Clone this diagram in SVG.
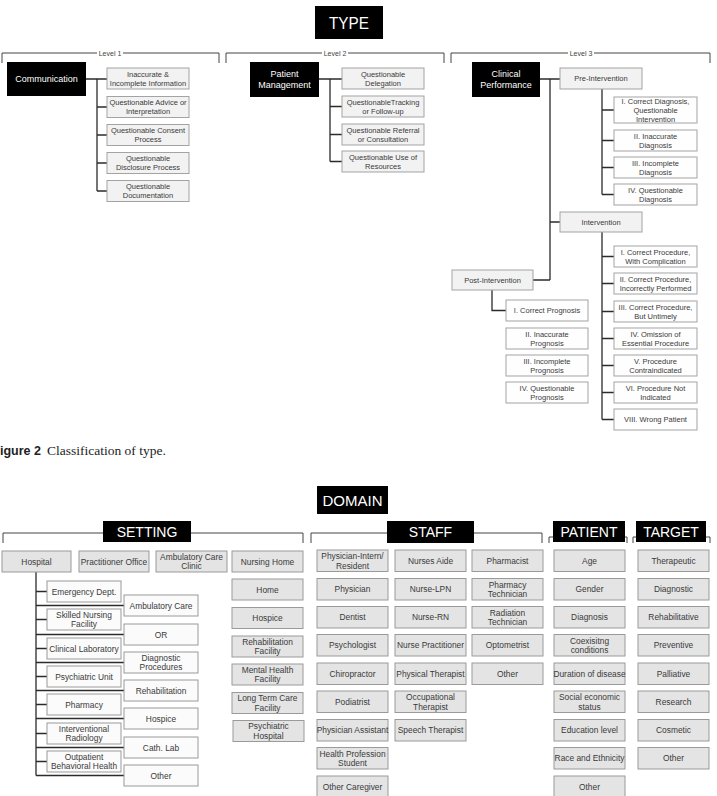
<svg xmlns="http://www.w3.org/2000/svg" width="717" height="796" viewBox="0 0 717 796">
<style>
text{font-family:"Liberation Sans",Arial,sans-serif;fill:#3a3a3a;text-anchor:middle;dominant-baseline:central}
.g rect{fill:#f2f2f2;stroke:#a3a3a3;stroke-width:1}
.w rect{fill:#fefefe;stroke:#a3a3a3;stroke-width:1}
.g text,.w text{font-size:7.5px}
.k rect{fill:#000}
.k text{fill:#fff;font-size:9px}
.h rect{fill:#000}
.h text{fill:#fff;font-size:14px}
.d rect{fill:#e4e4e4;stroke:#9a9a9a;stroke-width:1}
.dw rect{fill:#fbfbfb;stroke:#9a9a9a;stroke-width:1}
.d text,.dw text{font-size:8.4px}
.c{fill:none;stroke:#2b2b2b;stroke-width:1.3}
.br{fill:none;stroke:#444;stroke-width:1}
.lv{font-size:7px;fill:#444}
</style>

<!-- brackets -->
<g id="brackets">
<path class="br" d="M2,63V53H97M123,53H219V63"/>
<text class="lv" x="110" y="53">Level 1</text>
<path class="br" d="M226,63V53H322M348,53H444V63"/>
<text class="lv" x="335" y="53">Level 2</text>
<path class="br" d="M451,63V53H568M594,53H710V63"/>
<text class="lv" x="581" y="53">Level 3</text>
<path class="br" d="M3,543V533H303V543"/>
<path class="br" d="M311,543V533H542V543"/>
<path class="br" d="M549,543V537H627V543"/>
<path class="br" d="M633,543V537H710V543"/>
</g>

<!-- connectors -->
<g id="connectors">
<path class="c" d="M86,79H107M97,79V191M97,107H107M97,135H107M97,163H107M97,191H107"/>
<path class="c" d="M319,79H342M330,79V161.5M330,106.5H342M330,134.5H342M330,161.5H342"/>
<path class="c" d="M540,79H560M550,79V280M550,222H560M533,280H550"/>
<path class="c" d="M602,89V194.5M602,110H614M602,140.5H614M602,167.5H614M602,194.5H614"/>
<path class="c" d="M602,232V419.5M602,256.5H614M602,283.5H614M602,311.5H614M602,338.5H614M602,365.5H614M602,392.5H614M602,419.5H614"/>
<path class="c" d="M492,290V310.5H506"/>
<path class="c" d="M36,572V775.5M36,591.5H47M36,619.5H47M36,648.5H47M36,676.5H47M36,704.5H47M36,733.5H47M36,761.5H47M36,605.5H124M36,634.5H124M36,662.5H124M36,690.5H124M36,718.5H124M36,747.5H124M36,775.5H124"/>
</g>

<!-- titles -->
<g id="type" class="h"><rect x="315" y="6" width="68" height="33"/><text x="349" y="23" style="font-size:17px" textLength="40" lengthAdjust="spacingAndGlyphs">TYPE</text></g>
<g id="domain" class="h"><rect x="317" y="486" width="71" height="28"/><text x="352.5" y="500.5" style="font-size:15px">DOMAIN</text></g>
<g id="setting" class="h"><rect x="103" y="521" width="88" height="21"/><text x="147" y="531.5">SETTING</text></g>
<g id="staff" class="h"><rect x="387" y="521" width="87" height="22"/><text x="430.5" y="532">STAFF</text></g>
<g id="patient" class="h"><rect x="553" y="521" width="72" height="21"/><text x="589" y="531.5">PATIENT</text></g>
<g id="target" class="h"><rect x="636" y="521" width="70" height="21"/><text x="671" y="531.5">TARGET</text></g>

<!-- Level 1 -->
<g id="communication" class="k"><rect x="7" y="62" width="79" height="34"/><text x="46.5" y="79">Communication</text></g>
<g id="c1" class="g"><rect x="107" y="68" width="82" height="21"/><text x="148" y="74">Inaccurate &amp;</text><text x="148" y="83">Incomplete Information</text></g>
<g id="c2" class="g"><rect x="107" y="96.5" width="82" height="21"/><text x="148" y="102.5">Questionable Advice or</text><text x="148" y="111.5">Interpretation</text></g>
<g id="c3" class="g"><rect x="107" y="124.5" width="82" height="21"/><text x="148" y="130.5">Questionable Consent</text><text x="148" y="139.5">Process</text></g>
<g id="c4" class="g"><rect x="107" y="152.5" width="82" height="21"/><text x="148" y="158.5">Questionable</text><text x="148" y="167.5">Disclosure Process</text></g>
<g id="c5" class="g"><rect x="107" y="180.5" width="82" height="21"/><text x="148" y="186.5">Questionable</text><text x="148" y="195.5">Documentation</text></g>

<!-- Level 2 -->
<g id="patient-management" class="k"><rect x="250" y="62" width="69" height="35"/><text x="284.5" y="73.5">Patient</text><text x="284.5" y="84.5">Management</text></g>
<g id="p1" class="g"><rect x="342" y="68" width="82" height="21"/><text x="383" y="74">Questionable</text><text x="383" y="83">Delegation</text></g>
<g id="p2" class="g"><rect x="342" y="96" width="82" height="21"/><text x="383" y="102">QuestionableTracking</text><text x="383" y="111">or Follow-up</text></g>
<g id="p3" class="g"><rect x="342" y="124" width="82" height="21"/><text x="383" y="130">Questionable Referral</text><text x="383" y="139">or Consultation</text></g>
<g id="p4" class="g"><rect x="342" y="151" width="82" height="21"/><text x="383" y="157">Questionable Use of</text><text x="383" y="166">Resources</text></g>

<!-- Level 3 -->
<g id="clinical-performance" class="k"><rect x="472" y="62" width="68" height="35"/><text x="506" y="73.5">Clinical</text><text x="506" y="84.5">Performance</text></g>
<g id="pre-intervention" class="g"><rect x="560" y="68" width="82" height="21"/><text x="601" y="78.5">Pre-Intervention</text></g>
<g id="pre1" class="w"><rect x="614" y="97" width="83" height="26"/><text x="655.5" y="101">I. Correct Diagnosis,</text><text x="655.5" y="110">Questionable</text><text x="655.5" y="119">Intervention</text></g>
<g id="pre2" class="w"><rect x="614" y="130" width="83" height="21"/><text x="655.5" y="136">II. Inaccurate</text><text x="655.5" y="145">Diagnosis</text></g>
<g id="pre3" class="w"><rect x="614" y="157" width="83" height="21"/><text x="655.5" y="163">III. Incomplete</text><text x="655.5" y="172">Diagnosis</text></g>
<g id="pre4" class="w"><rect x="614" y="184" width="83" height="21"/><text x="655.5" y="190">IV. Questionable</text><text x="655.5" y="199">Diagnosis</text></g>
<g id="intervention" class="g"><rect x="560" y="212" width="82" height="20"/><text x="601" y="222">Intervention</text></g>
<g id="int1" class="w"><rect x="614" y="246" width="83" height="21"/><text x="655.5" y="252">I. Correct Procedure,</text><text x="655.5" y="261">With Complication</text></g>
<g id="int2" class="w"><rect x="614" y="273" width="83" height="21"/><text x="655.5" y="279">II. Correct Procedure,</text><text x="655.5" y="288">Incorrectly Performed</text></g>
<g id="int3" class="w"><rect x="614" y="301" width="83" height="21"/><text x="655.5" y="307">III. Correct Procedure,</text><text x="655.5" y="316">But Untimely</text></g>
<g id="int4" class="w"><rect x="614" y="328" width="83" height="21"/><text x="655.5" y="334">IV. Omission of</text><text x="655.5" y="343">Essential Procedure</text></g>
<g id="int5" class="w"><rect x="614" y="355" width="83" height="21"/><text x="655.5" y="361">V. Procedure</text><text x="655.5" y="370">Contraindicated</text></g>
<g id="int6" class="w"><rect x="614" y="382" width="83" height="21"/><text x="655.5" y="388">VI. Procedure Not</text><text x="655.5" y="397">Indicated</text></g>
<g id="int7" class="w"><rect x="614" y="409" width="83" height="21"/><text x="655.5" y="419.5">VIII. Wrong Patient</text></g>
<g id="post-intervention" class="g"><rect x="452" y="270" width="81" height="20"/><text x="492.5" y="280">Post-Intervention</text></g>
<g id="post1" class="w"><rect x="506" y="300" width="82" height="21"/><text x="547" y="310.5">I. Correct Prognosis</text></g>
<g id="post2" class="w"><rect x="506" y="328" width="82" height="21"/><text x="547" y="334">II. Inaccurate</text><text x="547" y="343">Prognosis</text></g>
<g id="post3" class="w"><rect x="506" y="355" width="82" height="21"/><text x="547" y="361">III. Incomplete</text><text x="547" y="370">Prognosis</text></g>
<g id="post4" class="w"><rect x="506" y="382" width="82" height="21"/><text x="547" y="388">IV. Questionable</text><text x="547" y="397">Prognosis</text></g>

<!-- caption -->
<text x="0" y="455" style="text-anchor:start;dominant-baseline:auto;fill:#222"><tspan style="font-family:'Liberation Sans',Arial,sans-serif;font-weight:bold;font-size:12.5px">igure 2</tspan><tspan dx="6" style="font-family:'Liberation Serif','Times New Roman',serif;font-size:13.5px">Classification of type.</tspan></text>

<!-- SETTING -->
<g id="hospital" class="d"><rect x="2" y="551" width="69" height="21"/><text x="36.5" y="561.5">Hospital</text></g>
<g id="practitioner-office" class="d"><rect x="79" y="551" width="70" height="21"/><text x="114" y="561.5">Practitioner Office</text></g>
<g id="ambulatory-care-clinic" class="d"><rect x="156" y="551" width="71" height="21"/><text x="191.5" y="556.75">Ambulatory Care</text><text x="191.5" y="566.25">Clinic</text></g>
<g id="nursing-home" class="d"><rect x="232" y="551" width="71" height="21"/><text x="267.5" y="561.5">Nursing Home</text></g>
<g id="home" class="d"><rect x="232" y="579" width="71" height="21"/><text x="267.5" y="589.5">Home</text></g>
<g id="hospice-s" class="d"><rect x="232" y="607.5" width="71" height="21"/><text x="267.5" y="618">Hospice</text></g>
<g id="rehab-facility" class="d"><rect x="232" y="636" width="71" height="21"/><text x="267.5" y="641.75">Rehabilitation</text><text x="267.5" y="651.25">Facility</text></g>
<g id="mental-health" class="d"><rect x="232" y="664" width="71" height="21"/><text x="267.5" y="669.75">Mental Health</text><text x="267.5" y="679.25">Facility</text></g>
<g id="long-term" class="d"><rect x="232" y="692.5" width="71" height="21"/><text x="267.5" y="698.25">Long Term Care</text><text x="267.5" y="707.75">Facility</text></g>
<g id="psych-hospital" class="d"><rect x="233" y="720.5" width="71" height="21"/><text x="268.5" y="726.25">Psychiatric</text><text x="268.5" y="735.75">Hospital</text></g>

<g id="h-emergency" class="dw"><rect x="47" y="581" width="74" height="21"/><text x="84" y="591.5">Emergency Dept.</text></g>
<g id="h-skilled" class="dw"><rect x="47" y="609" width="74" height="21"/><text x="84" y="614.75">Skilled Nursing</text><text x="84" y="624.25">Facility</text></g>
<g id="h-lab" class="dw"><rect x="47" y="638" width="74" height="21"/><text x="84" y="648.5">Clinical Laboratory</text></g>
<g id="h-psych" class="dw"><rect x="47" y="666" width="74" height="21"/><text x="84" y="676.5">Psychiatric Unit</text></g>
<g id="h-pharmacy" class="dw"><rect x="47" y="694" width="74" height="21"/><text x="84" y="704.5">Pharmacy</text></g>
<g id="h-radiology" class="dw"><rect x="47" y="723" width="74" height="21"/><text x="84" y="728.75">Interventional</text><text x="84" y="738.25">Radiology</text></g>
<g id="h-outpatient" class="dw"><rect x="47" y="751" width="74" height="21"/><text x="84" y="756.75">Outpatient</text><text x="84" y="766.25">Behavioral Health</text></g>
<g id="h-ambulatory" class="dw"><rect x="124" y="595" width="74" height="21"/><text x="161" y="605.5">Ambulatory Care</text></g>
<g id="h-or" class="dw"><rect x="124" y="624" width="74" height="21"/><text x="161" y="634.5">OR</text></g>
<g id="h-diagnostic" class="dw"><rect x="124" y="652" width="74" height="21"/><text x="161" y="657.75">Diagnostic</text><text x="161" y="667.25">Procedures</text></g>
<g id="h-rehab" class="dw"><rect x="124" y="680" width="74" height="21"/><text x="161" y="690.5">Rehabilitation</text></g>
<g id="h-hospice" class="dw"><rect x="124" y="708" width="74" height="21"/><text x="161" y="718.5">Hospice</text></g>
<g id="h-cath" class="dw"><rect x="124" y="737" width="74" height="21"/><text x="161" y="747.5">Cath. Lab</text></g>
<g id="h-other" class="dw"><rect x="124" y="765" width="74" height="21"/><text x="161" y="775.5">Other</text></g>

<!-- STAFF -->
<g id="s-intern" class="d"><rect x="317" y="550" width="71" height="21.5"/><text x="352.5" y="556">Physician-Intern/</text><text x="352.5" y="565.5">Resident</text></g>
<g id="s-physician" class="d"><rect x="317" y="578.5" width="71" height="21.5"/><text x="352.5" y="589.25">Physician</text></g>
<g id="s-dentist" class="d"><rect x="317" y="606.5" width="71" height="21.5"/><text x="352.5" y="617.25">Dentist</text></g>
<g id="s-psychologist" class="d"><rect x="317" y="634.5" width="71" height="21.5"/><text x="352.5" y="645.25">Psychologist</text></g>
<g id="s-chiropractor" class="d"><rect x="317" y="663" width="71" height="21.5"/><text x="352.5" y="673.75">Chiropractor</text></g>
<g id="s-podiatrist" class="d"><rect x="317" y="691" width="71" height="21.5"/><text x="352.5" y="701.75">Podiatrist</text></g>
<g id="s-pa" class="d"><rect x="317" y="719.5" width="71" height="21.5"/><text x="352.5" y="730.25">Physician Assistant</text></g>
<g id="s-student" class="d"><rect x="317" y="747.5" width="71" height="21.5"/><text x="352.5" y="753.5">Health Profession</text><text x="352.5" y="763">Student</text></g>
<g id="s-caregiver" class="d"><rect x="317" y="776" width="71" height="21.5"/><text x="352.5" y="786.75">Other Caregiver</text></g>

<g id="s-aide" class="d"><rect x="395" y="550" width="71" height="21.5"/><text x="430.5" y="560.75">Nurses Aide</text></g>
<g id="s-lpn" class="d"><rect x="395" y="578.5" width="71" height="21.5"/><text x="430.5" y="589.25">Nurse-LPN</text></g>
<g id="s-rn" class="d"><rect x="395" y="606.5" width="71" height="21.5"/><text x="430.5" y="617.25">Nurse-RN</text></g>
<g id="s-np" class="d"><rect x="395" y="634.5" width="71" height="21.5"/><text x="430.5" y="645.25">Nurse Practitioner</text></g>
<g id="s-pt" class="d"><rect x="395" y="663" width="71" height="21.5"/><text x="430.5" y="673.75">Physical Therapist</text></g>
<g id="s-ot" class="d"><rect x="395" y="691" width="71" height="21.5"/><text x="430.5" y="697">Occupational</text><text x="430.5" y="706.5">Therapist</text></g>
<g id="s-speech" class="d"><rect x="395" y="719.5" width="71" height="21.5"/><text x="430.5" y="730.25">Speech Therapist</text></g>

<g id="s-pharmacist" class="d"><rect x="472" y="550" width="71" height="21.5"/><text x="507.5" y="560.75">Pharmacist</text></g>
<g id="s-pharmtech" class="d"><rect x="472" y="578.5" width="71" height="21.5"/><text x="507.5" y="584.5">Pharmacy</text><text x="507.5" y="594">Technician</text></g>
<g id="s-radtech" class="d"><rect x="472" y="606.5" width="71" height="21.5"/><text x="507.5" y="612.5">Radiation</text><text x="507.5" y="622">Technician</text></g>
<g id="s-optometrist" class="d"><rect x="472" y="634.5" width="71" height="21.5"/><text x="507.5" y="645.25">Optometrist</text></g>
<g id="s-other" class="d"><rect x="472" y="663" width="71" height="21.5"/><text x="507.5" y="673.75">Other</text></g>

<!-- PATIENT -->
<g id="pt-age" class="d"><rect x="554" y="550" width="71" height="21.5"/><text x="589.5" y="560.75">Age</text></g>
<g id="pt-gender" class="d"><rect x="554" y="578.5" width="71" height="21.5"/><text x="589.5" y="589.25">Gender</text></g>
<g id="pt-diagnosis" class="d"><rect x="554" y="606.5" width="71" height="21.5"/><text x="589.5" y="617.25">Diagnosis</text></g>
<g id="pt-coexisting" class="d"><rect x="554" y="634.5" width="71" height="21.5"/><text x="589.5" y="640.5">Coexisitng</text><text x="589.5" y="650">conditions</text></g>
<g id="pt-duration" class="d"><rect x="554" y="663" width="71" height="21.5"/><text x="589.5" y="673.75">Duration of disease</text></g>
<g id="pt-ses" class="d"><rect x="554" y="691" width="71" height="21.5"/><text x="589.5" y="697">Social economic</text><text x="589.5" y="706.5">status</text></g>
<g id="pt-education" class="d"><rect x="554" y="719.5" width="71" height="21.5"/><text x="589.5" y="730.25">Education level</text></g>
<g id="pt-race" class="d"><rect x="554" y="747.5" width="71" height="21.5"/><text x="589.5" y="758.25">Race and Ethnicity</text></g>
<g id="pt-other" class="d"><rect x="554" y="776" width="71" height="21.5"/><text x="589.5" y="786.75">Other</text></g>

<!-- TARGET -->
<g id="t-therapeutic" class="d"><rect x="638" y="550" width="71" height="21.5"/><text x="673.5" y="560.75">Therapeutic</text></g>
<g id="t-diagnostic" class="d"><rect x="638" y="578.5" width="71" height="21.5"/><text x="673.5" y="589.25">Diagnostic</text></g>
<g id="t-rehab" class="d"><rect x="638" y="606.5" width="71" height="21.5"/><text x="673.5" y="617.25">Rehabilitative</text></g>
<g id="t-preventive" class="d"><rect x="638" y="634.5" width="71" height="21.5"/><text x="673.5" y="645.25">Preventive</text></g>
<g id="t-palliative" class="d"><rect x="638" y="663" width="71" height="21.5"/><text x="673.5" y="673.75">Palliative</text></g>
<g id="t-research" class="d"><rect x="638" y="691" width="71" height="21.5"/><text x="673.5" y="701.75">Research</text></g>
<g id="t-cosmetic" class="d"><rect x="638" y="719.5" width="71" height="21.5"/><text x="673.5" y="730.25">Cosmetic</text></g>
<g id="t-other" class="d"><rect x="638" y="747.5" width="71" height="21.5"/><text x="673.5" y="758.25">Other</text></g>
</svg>
